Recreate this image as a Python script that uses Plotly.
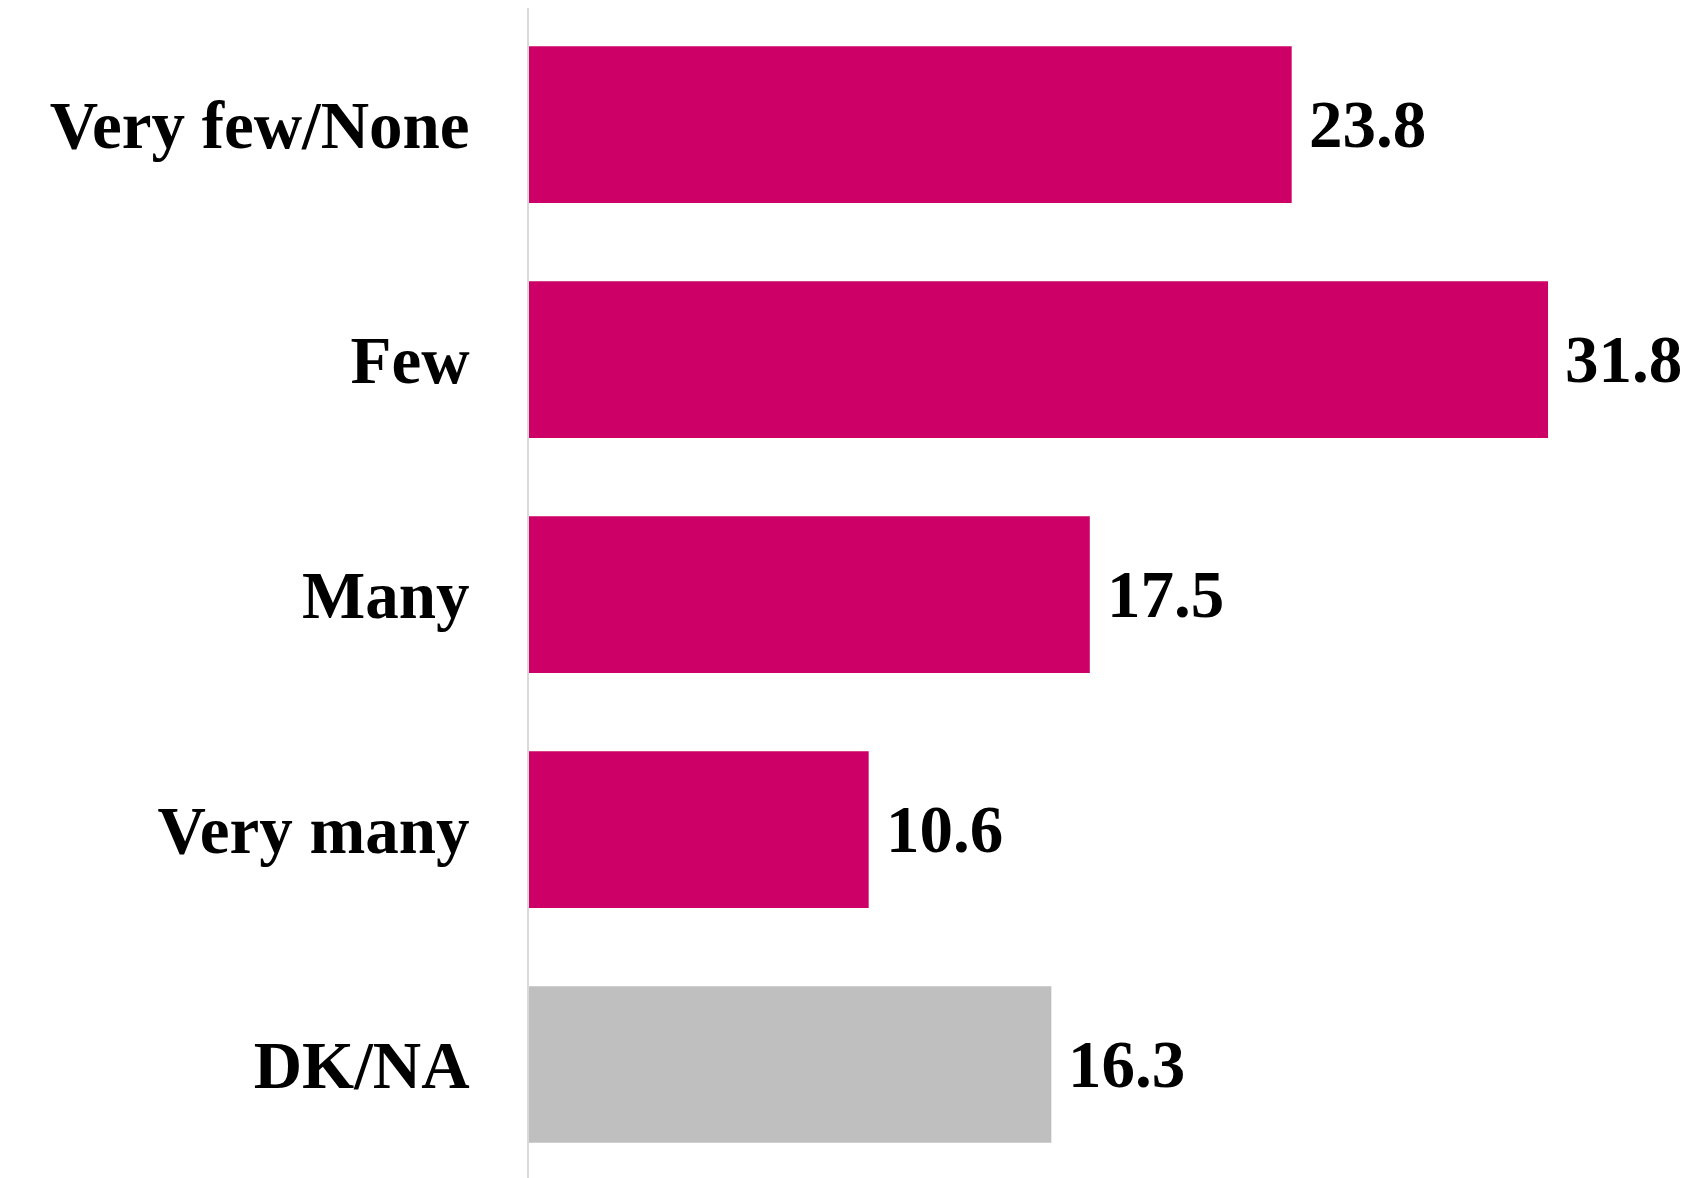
import plotly.graph_objects as go

categories = ["Very few/None", "Few", "Many", "Very many", "DK/NA"]
values = [23.8, 31.8, 17.5, 10.6, 16.3]
colors = ["#CC0066", "#CC0066", "#CC0066", "#CC0066", "#BFBFBF"]
value_labels = ["23.8", "31.8", "17.5", "10.6", "16.3"]

FONT = "Liberation Serif"
FS = 67

fig = go.Figure()
fig.add_trace(go.Bar(
    x=values, y=categories, orientation="h",
    marker=dict(color=colors, line=dict(width=0)),
    width=0.667,
    hoverinfo="skip",
))

for c, v, t in zip(categories, values, value_labels):
    fig.add_annotation(x=v, y=c, text="<b>%s</b>" % t, showarrow=False,
                       xanchor="left", yanchor="middle", xshift=15, yshift=1,
                       font=dict(family=FONT, size=FS, color="#000000"))

fig.update_layout(
    width=1699, height=1170,
    margin=dict(l=521, r=0, t=0, b=0, pad=0),
    paper_bgcolor="white", plot_bgcolor="white",
    showlegend=False,
    font=dict(family=FONT, size=FS, color="#000000"),
    xaxis=dict(range=[0, 36.76], visible=False, showgrid=False, zeroline=False),
    yaxis=dict(
        categoryorder="array", categoryarray=categories,
        range=[4.483, -0.496],
        showgrid=False, zeroline=False,
        showline=True, linecolor="#D9D9D9", linewidth=2,
        ticks="", ticklabelstandoff=44,
        tickfont=dict(family=FONT, size=FS, color="#000000", weight="bold"),
    ),
)

fig.write_html("out.html")
